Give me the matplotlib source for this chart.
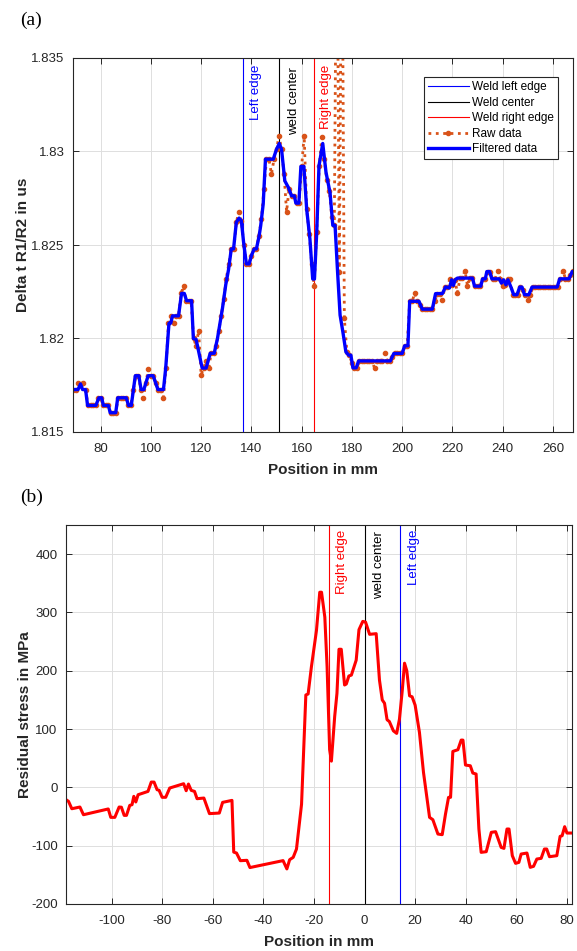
import numpy as np
import matplotlib
matplotlib.use("Agg")
import matplotlib.pyplot as plt
from matplotlib.ticker import FuncFormatter

plt.rcParams['font.family'] = ['Liberation Sans', 'DejaVu Sans']
plt.rcParams['axes.unicode_minus'] = False

# ---- panel (a): time-of-flight ratio ----
filt_x = [68.5, 71, 72, 72.8, 74, 74.8, 78.1, 79.3, 80.4, 81.1, 83.1, 83.8, 86.0, 86.8, 90.2, 91.1,
          92.2, 93.8, 95.2, 96.1, 97.2, 98.9, 100.9, 102.8, 105.0, 105.9, 107.2, 107.9, 108.6, 111.0,
          112.2, 113.3, 114.2, 116.2, 116.9, 118.0, 120.4, 122.0, 123.6, 125.2, 126.5, 127.5, 128.5,
          129.8, 130.9, 132.0, 132.9, 134.0, 135.1, 136.0, 136.9, 138.0, 139.1, 140.0, 141.1, 142.0,
          143.1, 143.7, 144.7, 145.6, 148.7, 150.0, 151.1, 152.0, 153.3, 154.7, 156.0, 157.1, 157.7,
          158.9, 159.7, 160.9, 162.0, 163.3, 164.4, 165.1, 166.0, 166.9, 168.4, 169.7, 171.3, 172.4,
          173.3, 174.3, 175.3, 176.4, 177.6, 178.7, 179.6, 180.4, 181.7, 182.7, 195.3, 196.7, 200.0,
          201.0, 202.3, 203.0, 206.7, 208.0, 212.0, 213.3, 216.0, 217.3, 218.8, 219.7, 220.4, 221.1,
          222.0, 228.0, 228.8, 231.3, 232.0, 233.1, 233.7, 234.8, 235.7, 238.7, 239.5, 240.4, 241.3,
          242.1, 243.3, 244.4, 245.7, 246.8, 247.7, 248.7, 250.4, 251.7, 261.7, 262.7, 266.4, 267.7,
          268.5]
filt_y = [1.81727, 1.81727, 1.81757, 1.81727, 1.81727, 1.81642, 1.81642, 1.81683, 1.81683, 1.81642,
          1.81642, 1.81603, 1.81603, 1.81683, 1.81683, 1.81642, 1.81642, 1.81801, 1.81801, 1.81727,
          1.81727, 1.81801, 1.81801, 1.81727, 1.81727, 1.81842, 1.82082, 1.82082, 1.82121, 1.82121,
          1.82241, 1.82241, 1.82202, 1.82202, 1.82000, 1.81995, 1.81842, 1.81842, 1.81921, 1.81921,
          1.82000, 1.82082, 1.82163, 1.82288, 1.82368, 1.82479, 1.82479, 1.82621, 1.82644, 1.82630,
          1.82514, 1.82399, 1.82399, 1.82443, 1.82479, 1.82479, 1.82550, 1.82603, 1.82719, 1.82959,
          1.82959, 1.83012, 1.83043, 1.83012, 1.82843, 1.82808, 1.82763, 1.82763, 1.82724, 1.82724,
          1.82920, 1.82920, 1.82692, 1.82532, 1.82318, 1.82318, 1.82568, 1.82923, 1.83043, 1.82888,
          1.82780, 1.82605, 1.82605, 1.82356, 1.82125, 1.82036, 1.81929, 1.81911, 1.81911, 1.81843,
          1.81843, 1.81880, 1.81880, 1.81920, 1.81920, 1.81961, 1.81961, 1.82199, 1.82199, 1.82157,
          1.82157, 1.82240, 1.82240, 1.82276, 1.82270, 1.82314, 1.82284, 1.82314, 1.82323, 1.82323,
          1.82280, 1.82280, 1.82319, 1.82319, 1.82358, 1.82358, 1.82319, 1.82319, 1.82296, 1.82314,
          1.82287, 1.82314, 1.82275, 1.82234, 1.82234, 1.82275, 1.82275, 1.82234, 1.82234, 1.82275,
          1.82275, 1.82319, 1.82319, 1.82358, 1.82358]

raw_x = np.arange(69, 269)
raw_y = [1.81727, 1.81727, 1.81762, 1.81757, 1.81762, 1.81727, 1.81642, 1.81642, 1.81642, 1.81642,  # 69-78
         1.81683, 1.81683, 1.81642, 1.81642, 1.81642, 1.81603, 1.81603, 1.81603, 1.81683, 1.81683,  # 79-88
         1.81683, 1.81683, 1.81642, 1.81642, 1.81727, 1.81801, 1.81801, 1.81727, 1.81683, 1.81760,  # 89-98
         1.81839, 1.81801, 1.81801, 1.81760, 1.81727, 1.81727, 1.81683, 1.81842, 1.82082, 1.82121,  # 99-108
         1.82082, 1.82121, 1.82121, 1.82241, 1.82280, 1.82202, 1.82202, 1.82202, 1.82000, 1.81960,  # 109-118
         1.82041, 1.81805, 1.81842, 1.81880, 1.81841, 1.81921, 1.81921, 1.81960, 1.82041, 1.82122,  # 119-128
         1.82210, 1.82320, 1.82400, 1.82479, 1.82479, 1.82621, 1.82678, 1.82630, 1.82500, 1.82399,  # 129-138
         1.82399, 1.82443, 1.82479, 1.82479, 1.82550, 1.82640, 1.82800, 1.82959, 1.82959, 1.82879,  # 139-148
         1.82959, 1.83012, 1.83084, 1.83012, 1.82880, 1.82678, 1.82799, 1.82763, 1.82763, 1.82724,  # 149-158
         1.82724, 1.82920, 1.83084, 1.82692, 1.82560, 1.82400, 1.82280, 1.82568, 1.82923, 1.83075,  # 159-168
         1.82960, 1.82850, 1.82790, 1.82650, 1.82605, 1.84500, 1.82356, 1.84500, 1.82107, 1.81929,  # 169-178
         1.81911, 1.81870, 1.81843, 1.81843, 1.81880, 1.81880, 1.81880, 1.81880, 1.81880, 1.81880,  # 179-188
         1.81843, 1.81880, 1.81880, 1.81880, 1.81921, 1.81880, 1.81880, 1.81900, 1.81920, 1.81920,  # 189-198
         1.81920, 1.81920, 1.81961, 1.81961, 1.82199, 1.82199, 1.82243, 1.82199, 1.82180, 1.82157,  # 199-208
         1.82157, 1.82157, 1.82157, 1.82157, 1.82200, 1.82240, 1.82240, 1.82207, 1.82276, 1.82276,  # 209-218
         1.82318, 1.82284, 1.82314, 1.82243, 1.82323, 1.82323, 1.82363, 1.82282, 1.82323, 1.82323,  # 219-228
         1.82280, 1.82280, 1.82280, 1.82319, 1.82319, 1.82358, 1.82358, 1.82319, 1.82319, 1.82363,  # 229-238
         1.82319, 1.82282, 1.82287, 1.82318, 1.82318, 1.82234, 1.82234, 1.82234, 1.82275, 1.82260,  # 239-248
         1.82234, 1.82207, 1.82234, 1.82275, 1.82275, 1.82275, 1.82275, 1.82275, 1.82275, 1.82275,  # 249-258
         1.82275, 1.82275, 1.82275, 1.82275, 1.82319, 1.82363, 1.82319, 1.82319, 1.82340, 1.82363]  # 259-268

edge_a = {'left': 136.7, 'center': 150.9, 'right': 165.1}

# ---- panel (b): residual stress ----
stress_x = [-118, -117.0, -115.7, -112.5, -111.1, -101.3, -100.3, -98.7, -97.0, -96.1, -95.0, -94.1,
            -92.8, -91.9, -91.2, -90.4, -89.5, -85.6, -84.3, -83.2, -82.0, -81.2, -80.0, -78.6, -77.0,
            -71.5, -70.5, -69.6, -68.5, -67.2, -66.2, -63.5, -61.3, -57.4, -56.1, -52.4, -51.7, -50.6,
            -49.1, -46.5, -45.3, -32.2, -30.7, -29.6, -28.2, -26.9, -24.9, -23.2, -22.3, -21.0, -19.0,
            -17.7, -17.0, -15.7, -14.8, -13.8, -13.1, -11.8, -10.9, -10.1, -9.2, -7.9, -7.2, -6.2,
            -5.2, -3.3, -2.2, -0.7, 0.4, 2.0, 4.6, 5.9, 7.0, 7.9, 8.9, 9.8, 11.4, 12.7, 13.8, 14.9,
            15.8, 16.7, 17.8, 18.8, 20.0, 21.7, 23.3, 25.7, 27.0, 29.0, 30.7, 32.0, 33.2, 34.0, 34.9,
            36.9, 38.2, 38.9, 39.9, 41.8, 42.8, 44.1, 45.2, 46.1, 48.1, 50.1, 51.8, 54.0, 55.1, 56.3,
            57.1, 58.4, 59.7, 61.0, 61.9, 64.2, 65.5, 66.8, 68.1, 69.8, 71.1, 72.0, 73.1, 76.0, 77.3,
            78.1, 79.1, 80.0, 82.0]
stress_y = [-21, -24, -36.6, -33.7, -46.9, -37, -51.4, -51.4, -33.7, -34, -48, -48, -30.9, -29.7,
            -15.4, -25, -12.6, -6.9, 9.1, 9.1, -4, -5, -17, -17, -1.1, 6.3, -5.7, 5.7, -5.1, -6.9,
            -19.4, -18.3, -45, -44, -25.7, -22.3, -111, -112.6, -125.7, -125.1, -137.5, -125.6,
            -139.8, -124, -120, -105.7, -29, 158.5, 160.2, 206.8, 269.3, 334.7, 334.7, 292, 206.8,
            64.8, 45, 121.6, 161.4, 236.9, 236.9, 175.6, 177.3, 191, 192.6, 218.2, 270.5, 284.7,
            283.5, 262.5, 263.6, 184, 150, 144.3, 116, 113, 97, 92.6, 117, 165.7, 213, 200, 157,
            155.4, 141, 94.3, 25.7, -51.4, -55.4, -80, -81.1, -45.7, -17.1, -17.1, 61.7, 64.6, 81.1,
            81.1, 38.3, 37.1, 24.6, 22.9, -71.4, -111.4, -110.3, -77.1, -76, -102.9, -104.6, -71.4,
            -71.4, -117.1, -130.3, -128.6, -114.3, -112.6, -137.1, -135.4, -122.9, -121.7, -105.7,
            -105.7, -118.9, -117.1, -84, -82.9, -67.4, -78.3, -78.3]

edge_b = {'right': -14.0, 'center': 0.0, 'left': 14.0}

ORANGE = '#D95319'
TXT = '#262626'


def style_axes(ax):
    ax.grid(True, color='#dedede', linewidth=0.7)
    ax.set_axisbelow(True)
    ax.tick_params(direction='in', top=True, right=True, length=4, width=0.7,
                   labelsize=9.5, labelcolor=TXT, color=TXT)
    ax.tick_params(axis='x', pad=8)
    ax.tick_params(axis='y', pad=6)
    for s in ax.spines.values():
        s.set_color(TXT)
        s.set_linewidth(0.8)


def edge_label(ax, x, text, color, dx, dy):
    ax.annotate(text, xy=(x, 1.0), xycoords=('data', 'axes fraction'),
                xytext=(dx, -dy), textcoords='offset pixels', rotation=90,
                ha='center', va='top', color=color, fontsize=9.5)


fig = plt.figure(figsize=(5.77, 9.51), dpi=100)

# panel (a)
ax1 = fig.add_axes([73 / 577, 1 - 432 / 951, 500 / 577, 374 / 951])
ax1.axvline(edge_a['left'], color='b', lw=0.8, label='Weld left edge')
ax1.axvline(edge_a['center'], color='k', lw=0.8, label='Weld center')
ax1.axvline(edge_a['right'], color='r', lw=0.8, label='Weld right edge')
ax1.plot(raw_x, raw_y, ':', color=ORANGE, lw=2, marker='.', markersize=6, label='Raw data')
ax1.plot(filt_x, filt_y, '-', color='b', lw=2.4, label='Filtered data')
ax1.set_xlim(69, 268)
ax1.set_ylim(1.815, 1.835)
ax1.set_xticks(np.arange(80, 261, 20))
ax1.set_yticks([1.815, 1.82, 1.825, 1.83, 1.835])
ax1.yaxis.set_major_formatter(FuncFormatter(lambda v, p: '%g' % round(v, 4)))
style_axes(ax1)
ax1.set_xlabel('Position in mm', fontsize=11, fontweight='bold', color=TXT, labelpad=6)
ax1.set_ylabel('Delta t R1/R2 in us', fontsize=11, fontweight='bold', color=TXT, labelpad=1)
edge_label(ax1, edge_a['left'], 'Left edge', 'b', 13, 7)
edge_label(ax1, edge_a['center'], 'weld center', 'k', 15, 9)
edge_label(ax1, edge_a['right'], 'Right edge', 'r', 12, 7)
leg = ax1.legend(loc='upper right', fontsize=8.5, handlelength=3.4, borderpad=0.35,
                 labelspacing=0.3, handletextpad=0.3, fancybox=False, framealpha=1,
                 bbox_to_anchor=(0.982, 0.965))
leg.get_frame().set_edgecolor(TXT)
leg.get_frame().set_linewidth(0.8)

# panel (b)
ax2 = fig.add_axes([66 / 577, 1 - 904 / 951, 506 / 577, 379 / 951])
ax2.axvline(edge_b['right'], color='r', lw=0.8)
ax2.axvline(edge_b['center'], color='k', lw=0.8)
ax2.axvline(edge_b['left'], color='b', lw=0.8)
ax2.plot(stress_x, stress_y, '-', color='r', lw=2.2)
ax2.set_xlim(-118, 82)
ax2.set_ylim(-200, 450)
ax2.set_xticks(np.arange(-100, 81, 20))
ax2.set_yticks(np.arange(-200, 401, 100))
style_axes(ax2)
ax2.set_xlabel('Position in mm', fontsize=11, fontweight='bold', color=TXT, labelpad=6)
ax2.set_ylabel('Residual stress in MPa', fontsize=11, fontweight='bold', color=TXT, labelpad=-1)
edge_label(ax2, edge_b['right'], 'Right edge', 'r', 13, 5)
edge_label(ax2, edge_b['center'], 'weld center', 'k', 14, 6)
edge_label(ax2, edge_b['left'], 'Left edge', 'b', 14, 5)

fig.text(20 / 577, 1 - 20 / 951, '(a)', family='Liberation Serif', fontsize=14, va='center')
fig.text(20 / 577, 1 - 497 / 951, '(b)', family='Liberation Serif', fontsize=14, va='center')

fig.savefig('out.png', dpi=100)
